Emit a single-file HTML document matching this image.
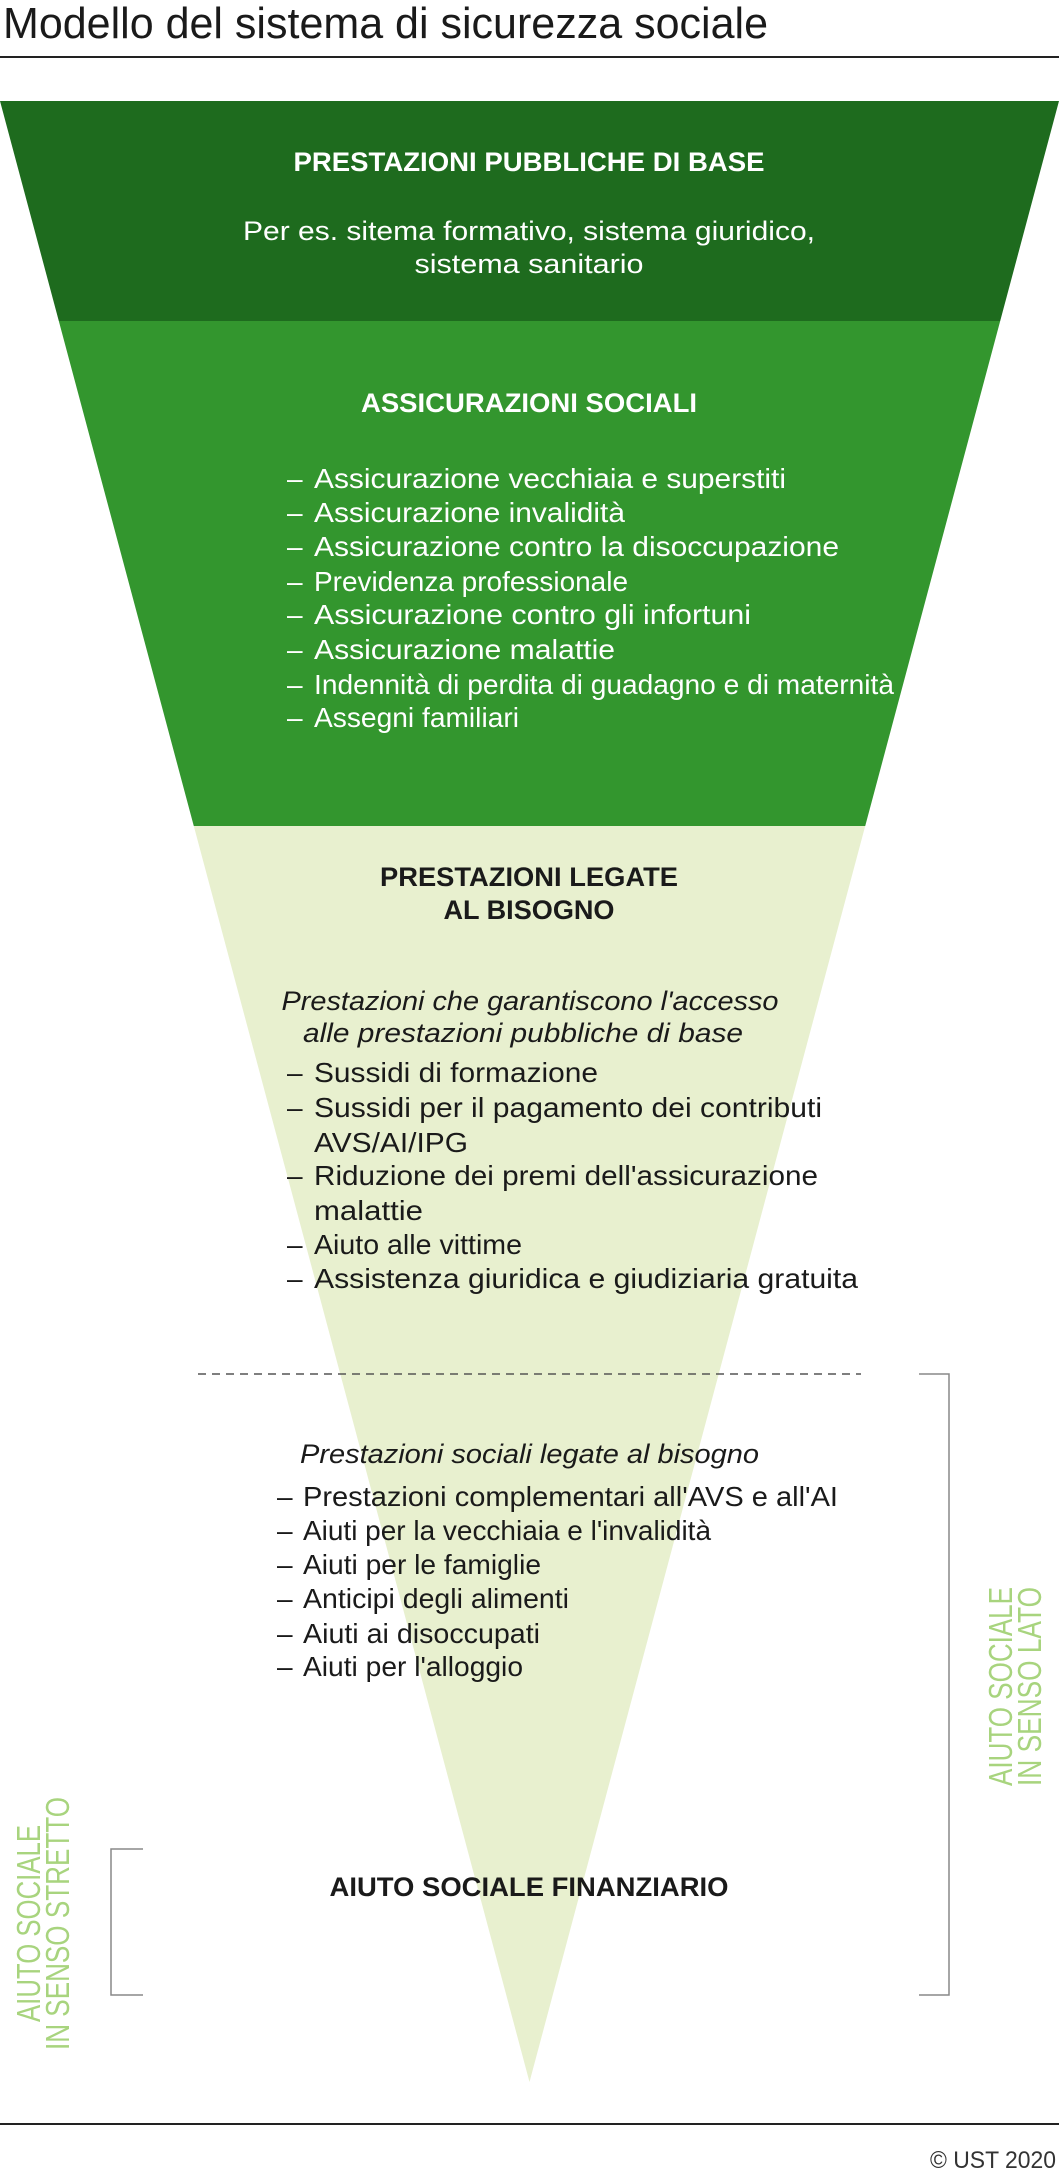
<!DOCTYPE html>
<html><head><meta charset="utf-8"><style>html,body{margin:0;padding:0;background:#fff}svg{display:block}</style></head>
<body>
<svg width="1059" height="2176" viewBox="0 0 1059 2176" xmlns="http://www.w3.org/2000/svg" font-family="'Liberation Sans', sans-serif">
<defs><clipPath id="tri"><polygon points="0,101 1059,101 529.5,2082"/></clipPath></defs>
<text x="3" y="38" font-size="44" fill="#1a1a1a" textLength="765" lengthAdjust="spacingAndGlyphs">Modello del sistema di sicurezza sociale</text>
<rect x="0" y="56" width="1059" height="2" fill="#222"/>
<g clip-path="url(#tri)">
<rect x="0" y="101" width="1059" height="220" fill="#1e6b1e"/>
<rect x="0" y="321" width="1059" height="505" fill="#33962e"/>
<rect x="0" y="826" width="1059" height="1260" fill="#e8f0cf"/>
</g>
<g fill="#fff" text-anchor="middle">
<text x="529" y="171" font-size="27" font-weight="bold" textLength="471" lengthAdjust="spacingAndGlyphs">PRESTAZIONI PUBBLICHE DI BASE</text>
<text x="529" y="240" font-size="27" textLength="572" lengthAdjust="spacingAndGlyphs">Per es. sitema formativo, sistema giuridico,</text>
<text x="529" y="273" font-size="27" textLength="229" lengthAdjust="spacingAndGlyphs">sistema sanitario</text>
<text x="529" y="412" font-size="27" font-weight="bold" textLength="336" lengthAdjust="spacingAndGlyphs">ASSICURAZIONI SOCIALI</text>
</g>
<g fill="#fff" font-size="28">
<text x="287" y="488">–</text><text x="314" y="488" textLength="472" lengthAdjust="spacingAndGlyphs">Assicurazione vecchiaia e superstiti</text>
<text x="287" y="522">–</text><text x="314" y="522" textLength="311" lengthAdjust="spacingAndGlyphs">Assicurazione invalidità</text>
<text x="287" y="556">–</text><text x="314" y="556" textLength="525" lengthAdjust="spacingAndGlyphs">Assicurazione contro la disoccupazione</text>
<text x="287" y="591">–</text><text x="314" y="591" textLength="314" lengthAdjust="spacingAndGlyphs">Previdenza professionale</text>
<text x="287" y="624">–</text><text x="314" y="624" textLength="437" lengthAdjust="spacingAndGlyphs">Assicurazione contro gli infortuni</text>
<text x="287" y="659">–</text><text x="314" y="659" textLength="301" lengthAdjust="spacingAndGlyphs">Assicurazione malattie</text>
<text x="287" y="694">–</text><text x="314" y="694" textLength="580" lengthAdjust="spacingAndGlyphs">Indennità di perdita di guadagno e di maternità</text>
<text x="287" y="727">–</text><text x="314" y="727" textLength="205" lengthAdjust="spacingAndGlyphs">Assegni familiari</text>
</g>
<g fill="#1a1a1a" text-anchor="middle">
<text x="529" y="886" font-size="27" font-weight="bold" textLength="298" lengthAdjust="spacingAndGlyphs">PRESTAZIONI LEGATE</text>
<text x="529" y="919" font-size="27" font-weight="bold" textLength="171" lengthAdjust="spacingAndGlyphs">AL BISOGNO</text>
<text x="530" y="1010" font-size="27" font-style="italic" textLength="497" lengthAdjust="spacingAndGlyphs">Prestazioni che garantiscono l'accesso</text>
<text x="523" y="1042" font-size="27" font-style="italic" textLength="440" lengthAdjust="spacingAndGlyphs">alle prestazioni pubbliche di base</text>
<text x="529" y="1896" font-size="27" font-weight="bold" textLength="399" lengthAdjust="spacingAndGlyphs">AIUTO SOCIALE FINANZIARIO</text>
</g>
<g fill="#1a1a1a" font-size="28">
<text x="287" y="1082">–</text><text x="314" y="1082" textLength="284" lengthAdjust="spacingAndGlyphs">Sussidi di formazione</text>
<text x="287" y="1117">–</text><text x="314" y="1117" textLength="508" lengthAdjust="spacingAndGlyphs">Sussidi per il pagamento dei contributi</text>
<text x="314" y="1152" textLength="154" lengthAdjust="spacingAndGlyphs">AVS/AI/IPG</text>
<text x="287" y="1185">–</text><text x="314" y="1185" textLength="504" lengthAdjust="spacingAndGlyphs">Riduzione dei premi dell'assicurazione</text>
<text x="314" y="1220" textLength="109" lengthAdjust="spacingAndGlyphs">malattie</text>
<text x="287" y="1254">–</text><text x="314" y="1254" textLength="208" lengthAdjust="spacingAndGlyphs">Aiuto alle vittime</text>
<text x="287" y="1288">–</text><text x="314" y="1288" textLength="544" lengthAdjust="spacingAndGlyphs">Assistenza giuridica e giudiziaria gratuita</text>
<text x="300" y="1463" font-size="27" font-style="italic" textLength="459" lengthAdjust="spacingAndGlyphs">Prestazioni sociali legate al bisogno</text>
<text x="277" y="1506">–</text><text x="303" y="1506" textLength="535" lengthAdjust="spacingAndGlyphs">Prestazioni complementari all'AVS e all'AI</text>
<text x="277" y="1540">–</text><text x="303" y="1540" textLength="408" lengthAdjust="spacingAndGlyphs">Aiuti per la vecchiaia e l'invalidità</text>
<text x="277" y="1574">–</text><text x="303" y="1574" textLength="238" lengthAdjust="spacingAndGlyphs">Aiuti per le famiglie</text>
<text x="277" y="1608">–</text><text x="303" y="1608" textLength="266" lengthAdjust="spacingAndGlyphs">Anticipi degli alimenti</text>
<text x="277" y="1643">–</text><text x="303" y="1643" textLength="237" lengthAdjust="spacingAndGlyphs">Aiuti ai disoccupati</text>
<text x="277" y="1676">–</text><text x="303" y="1676" textLength="220" lengthAdjust="spacingAndGlyphs">Aiuti per l'alloggio</text>
</g>
<line x1="198" y1="1374" x2="861" y2="1374" stroke="#555" stroke-width="1.6" stroke-dasharray="8,6"/>
<polyline points="919,1374 949,1374 949,1995 919,1995" fill="none" stroke="#888" stroke-width="1.5"/>
<polyline points="143,1849 111,1849 111,1995 143,1995" fill="none" stroke="#888" stroke-width="1.5"/>
<g fill="#a8d47e" font-size="33">
<text transform="translate(1012,1786) rotate(-90)" textLength="199" lengthAdjust="spacingAndGlyphs">AIUTO SOCIALE</text>
<text transform="translate(1041,1786) rotate(-90)" textLength="199" lengthAdjust="spacingAndGlyphs">IN SENSO LATO</text>
<text transform="translate(40,2022) rotate(-90)" textLength="197" lengthAdjust="spacingAndGlyphs">AIUTO SOCIALE</text>
<text transform="translate(69,2050) rotate(-90)" textLength="253" lengthAdjust="spacingAndGlyphs">IN SENSO STRETTO</text>
</g>
<rect x="0" y="2123" width="1059" height="2" fill="#222"/>
<text x="1056" y="2168" font-size="24" fill="#333" text-anchor="end" textLength="126" lengthAdjust="spacingAndGlyphs">© UST 2020</text>
</svg>
</body></html>
